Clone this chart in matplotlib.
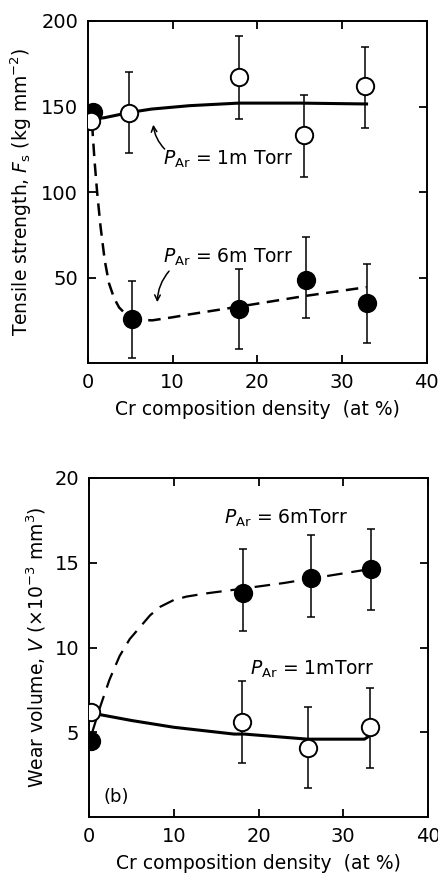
import numpy as np
import matplotlib.pyplot as plt

# (a) tensile strength, Fs (kg mm^-2)
cr_fs_1m = [0.4, 4.9, 17.8, 25.5, 32.7]
fs_1m = [141.6, 146.5, 167.3, 133.3, 161.9]
fs_1m_lo = [141.6, 123.0, 143.0, 108.6, 137.2]
fs_1m_hi = [141.6, 170.0, 191.0, 156.6, 184.8]

cr_fs_6m = [0.6, 5.2, 17.9, 25.8, 33.0]
fs_6m = [146.9, 25.7, 31.5, 48.6, 35.0]
fs_6m_lo = [146.9, 2.9, 8.2, 26.3, 11.7]
fs_6m_hi = [146.9, 48.2, 54.9, 73.5, 58.0]

# hand-drawn trend curves
fit_fs_1m_x = [0.5, 2.0, 4.9, 7.5, 12.0, 17.8, 25.0, 32.9]
fit_fs_1m_y = [142.5, 143.5, 146.5, 148.5, 150.5, 152.0, 152.0, 151.5]
fit_fs_6m_x = [0.5, 0.8, 1.1, 1.5, 2.0, 2.5, 3.1, 3.7, 4.5, 5.3, 6.4,
               7.6, 10.0, 12.0, 17.8, 25.7, 32.9]
fit_fs_6m_y = [140.0, 118.0, 100.0, 80.0, 60.0, 46.7, 38.0, 32.5, 28.5,
               26.5, 25.3, 25.0, 26.8, 28.5, 33.0, 39.3, 44.4]

# (b) wear volume, V (x10^-3 mm^3)
cr_v_6m = [0.2, 18.2, 26.2, 33.3]
v_6m = [4.5, 13.2, 14.1, 14.6]
v_6m_lo = [4.5, 11.0, 11.8, 12.2]
v_6m_hi = [4.5, 15.8, 16.6, 17.0]

cr_v_1m = [0.2, 18.1, 25.8, 33.1]
v_1m = [6.2, 5.6, 4.1, 5.3]
v_1m_lo = [6.2, 3.2, 1.7, 2.9]
v_1m_hi = [6.2, 8.0, 6.5, 7.6]

fit_v_6m_x = [0.3, 1.3, 2.4, 3.6, 4.8, 6.0, 7.2, 8.4, 10.0, 11.5, 14.0, 17.1, 23.0, 32.9]
fit_v_6m_y = [4.9, 6.5, 8.1, 9.5, 10.5, 11.2, 11.9, 12.4, 12.8, 13.0, 13.2, 13.4, 13.8, 14.6]
fit_v_1m_x = [0.7, 5.0, 10.0, 17.1, 18.3, 25.8, 32.5, 33.1]
fit_v_1m_y = [6.1, 5.7, 5.3, 4.9, 4.9, 4.6, 4.6, 4.8]

xticks = [0, 10, 20, 30, 40]

plt.rcParams['font.family'] = ['DejaVu Sans']
plt.rcParams['mathtext.fontset'] = 'dejavusans'


def style_axes(ax):
    for sp in ax.spines.values():
        sp.set_linewidth(1.4)
    ax.tick_params(direction='in', length=6, width=1.3, top=True, right=True,
                   labelsize=14, pad=7)
    ax.set_xlim(0, 40)
    ax.set_xticks(xticks)
    ax.set_xlabel('Cr composition density  (at %)', fontsize=13.5, labelpad=6)


def errpoints(ax, x, y, lo, hi, filled):
    y = np.array(y)
    yerr = [y - np.array(lo), np.array(hi) - y]
    ax.errorbar(x, y, yerr=yerr, fmt='none', ecolor='black', elinewidth=1.1,
                capsize=3, capthick=1.1, zorder=2)
    ax.plot(x, y, 'o', ms=12.5, mec='black', mew=1.4,
            mfc='black' if filled else 'white', zorder=4)


fig = plt.figure(figsize=(4.39, 8.75), dpi=100)

# ---- upper panel: tensile strength
ax1 = fig.add_axes([0.200, 0.585, 0.772, 0.391])
ax1.plot(fit_fs_1m_x, fit_fs_1m_y, '-', color='black', lw=2.2, zorder=3)
ax1.plot(fit_fs_6m_x, fit_fs_6m_y, '--', color='black', lw=1.8,
         dashes=(5, 3), zorder=3)
errpoints(ax1, cr_fs_6m, fs_6m, fs_6m_lo, fs_6m_hi, True)
errpoints(ax1, cr_fs_1m, fs_1m, fs_1m_lo, fs_1m_hi, False)
ax1.set_ylim(0, 200)
ax1.set_yticks([50, 100, 150, 200])
style_axes(ax1)
ax1.set_ylabel(r'Tensile strength, $F_{\rm s}$ (kg mm$^{-2}$)', fontsize=13.5,
               labelpad=5)
ax1.text(8.9, 119, r'$P_{\rm Ar}$ = 1m Torr', fontsize=13.5, va='center')
ax1.annotate('', xy=(7.7, 141), xytext=(9.3, 124),
             arrowprops=dict(arrowstyle='->', lw=1.1, color='black',
                             connectionstyle='arc3,rad=-0.2'))
ax1.text(8.9, 62, r'$P_{\rm Ar}$ = 6m Torr', fontsize=13.5, va='center')
ax1.annotate('', xy=(8.2, 34), xytext=(9.8, 55),
             arrowprops=dict(arrowstyle='->', lw=1.1, color='black',
                             connectionstyle='arc3,rad=0.2'))

# ---- lower panel: wear volume
ax2 = fig.add_axes([0.203, 0.066, 0.772, 0.388])
ax2.plot(fit_v_1m_x, fit_v_1m_y, '-', color='black', lw=2.2, zorder=3)
ax2.plot(fit_v_6m_x, fit_v_6m_y, '--', color='black', lw=1.6,
         dashes=(7, 4), zorder=3)
errpoints(ax2, cr_v_6m, v_6m, v_6m_lo, v_6m_hi, True)
errpoints(ax2, cr_v_1m, v_1m, v_1m_lo, v_1m_hi, False)
ax2.set_ylim(0, 20)
ax2.set_yticks([5, 10, 15, 20])
style_axes(ax2)
ax2.set_ylabel(r'Wear volume, $V$ ($\times$10$^{-3}$ mm$^3$)', fontsize=13.5,
               labelpad=5)
ax2.text(15.9, 17.6, r'$P_{\rm Ar}$ = 6mTorr', fontsize=13.5, va='center')
ax2.text(19.0, 8.7, r'$P_{\rm Ar}$ = 1mTorr', fontsize=13.5, va='center')
ax2.text(1.7, 1.2, '(b)', fontsize=13, va='center')

fig.savefig('out.png', dpi=100)
